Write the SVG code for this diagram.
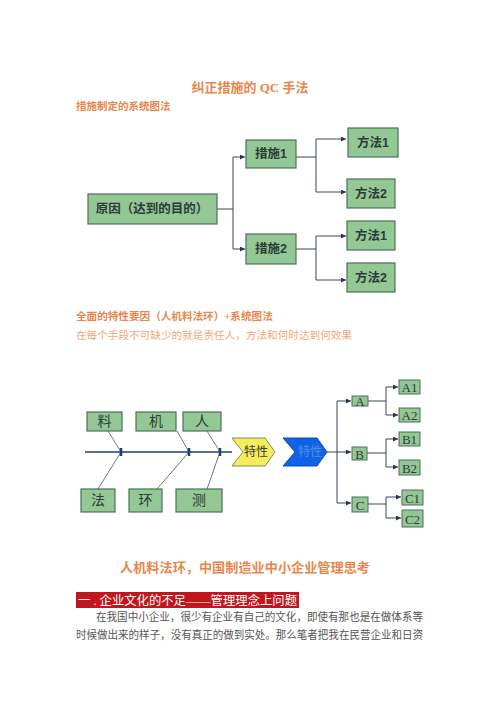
<svg xmlns="http://www.w3.org/2000/svg" width="500" height="708" viewBox="0 0 500 708">
<defs>
<style>
.t{font-family:"Liberation Serif","Noto Sans CJK SC",serif}
.s{font-family:"Liberation Sans","Noto Sans CJK SC",sans-serif}
.or{fill:#e8874d;font-weight:bold}
.box{fill:#93c793;stroke:#4d6e5c;stroke-width:1.2}
.sbox{fill:#93c793;stroke:#4d6e5c;stroke-width:1}
.bt{font-family:"Liberation Sans","Noto Sans CJK SC",sans-serif;font-size:12.5px;font-weight:bold;fill:#2b3b3b;text-anchor:middle;dominant-baseline:central}
.ft{font-family:"Liberation Serif","Noto Sans CJK SC",serif;font-size:14px;fill:#2b3b3b;text-anchor:middle;dominant-baseline:central}
.lt{font-family:"Liberation Serif","Noto Sans CJK SC",serif;font-size:13px;fill:#2b3b3b;text-anchor:middle;dominant-baseline:central}
.ln{fill:none;stroke:#3a4658;stroke-width:1}
.bone{fill:none;stroke:#777;stroke-width:1}
</style>
<marker id="ah" viewBox="0 0 6 6" refX="6" refY="3" markerWidth="5" markerHeight="5" orient="auto"><path d="M0,0L6,3L0,6z" fill="#2a3550"/></marker>
</defs>
<rect width="500" height="708" fill="#fff"/>

<text class="t or" x="250" y="92" font-size="13" text-anchor="middle">纠正措施的 QC 手法</text>
<text class="t or" x="76" y="110" font-size="10.5">措施制定的系统图法</text>

<g id="connectors1">
<path class="ln" d="M217,209H233M233,157V249"/>
<path class="ln" d="M233,157H245" marker-end="url(#ah)"/>
<path class="ln" d="M233,249H245" marker-end="url(#ah)"/>
<path class="ln" d="M296,157H316M316,139V192"/>
<path class="ln" d="M316,139H346" marker-end="url(#ah)"/>
<path class="ln" d="M316,192H346" marker-end="url(#ah)"/>
<path class="ln" d="M296,249H316M316,236V280"/>
<path class="ln" d="M316,236H346" marker-end="url(#ah)"/>
<path class="ln" d="M316,280H346" marker-end="url(#ah)"/>
</g>
<g id="n_cause"><rect class="box" x="88" y="194" width="129" height="30"/><text class="bt" x="152" y="209" font-size="13">原因（达到的目的）</text></g>
<g id="n_m1"><rect class="box" x="246" y="140" width="50" height="28"/><text class="bt" x="271" y="154">措施1</text></g>
<g id="n_m2"><rect class="box" x="246" y="234" width="50" height="30"/><text class="bt" x="271" y="249">措施2</text></g>
<g id="n_f11"><rect class="box" x="348" y="128" width="50" height="29"/><text class="bt" x="373" y="143">方法1</text></g>
<g id="n_f12"><rect class="box" x="347" y="179" width="48" height="29"/><text class="bt" x="371" y="194">方法2</text></g>
<g id="n_f21"><rect class="box" x="347" y="221" width="48" height="29"/><text class="bt" x="371" y="236">方法1</text></g>
<g id="n_f22"><rect class="box" x="347" y="263" width="48" height="29"/><text class="bt" x="371" y="278">方法2</text></g>

<text class="t or" x="76" y="320" font-size="10.6">全面的特性要因（人机料法环）+系统图法</text>
<text class="t" x="76" y="339" font-size="10.6" fill="#f0a878" textLength="276" lengthAdjust="spacingAndGlyphs">在每个手段不可缺少的就是责任人，方法和何时达到何效果</text>

<g id="connectors2">
<path d="M85,452H232" fill="none" stroke="#1f3f6f" stroke-width="1.5"/>
<path class="bone" d="M108,431L121,452L98,489"/>
<path class="bone" d="M177,431L189,452L157,489"/>
<path class="bone" d="M207,431L220,452L207,489"/>
<g stroke="#1f3f6f" stroke-width="2.5"><path d="M121,448V456M189,448V456M220,448V456"/></g>
<path class="ln" d="M327,452H337M337,401V503"/>
<path class="ln" d="M337,401H351" marker-end="url(#ah)"/>
<path class="ln" d="M337,452H351" marker-end="url(#ah)"/>
<path class="ln" d="M337,503H351" marker-end="url(#ah)"/>
<path class="ln" d="M368,401H386M386,387V415"/>
<path class="ln" d="M386,387H398" marker-end="url(#ah)"/>
<path class="ln" d="M386,415H398" marker-end="url(#ah)"/>
<path class="ln" d="M367,453H386M386,439V467"/>
<path class="ln" d="M386,439H398" marker-end="url(#ah)"/>
<path class="ln" d="M386,467H398" marker-end="url(#ah)"/>
<path class="ln" d="M368,504H386M386,497V518"/>
<path class="ln" d="M386,497H401" marker-end="url(#ah)"/>
<path class="ln" d="M386,518H401" marker-end="url(#ah)"/>
</g>
<g id="n_liao"><rect class="box" x="87" y="412" width="35" height="19"/><text class="ft" x="104.5" y="421.5">料</text></g>
<g id="n_ji"><rect class="box" x="136" y="412" width="40" height="19"/><text class="ft" x="156" y="421.5">机</text></g>
<g id="n_ren"><rect class="box" x="183" y="412" width="38" height="19"/><text class="ft" x="202" y="421.5">人</text></g>
<g id="n_fa"><rect class="box" x="81" y="489" width="34" height="23"/><text class="ft" x="98" y="500.5">法</text></g>
<g id="n_huan"><rect class="box" x="129" y="489" width="33" height="23"/><text class="ft" x="145.5" y="500.5">环</text></g>
<g id="n_ce"><rect class="box" x="176" y="489" width="46" height="23"/><text class="ft" x="199" y="500.5">测</text></g>
<g id="n_tx1"><polygon points="232,438 265,438 275,452 265,466 232,466 243,452" fill="#f6ed5e" stroke="#8a8a5a" stroke-width="1"/><text class="t" x="256" y="452" font-size="12" fill="#3a3a2a" text-anchor="middle" dominant-baseline="central">特性</text></g>
<g id="n_tx2"><polygon points="283,438 317,438 327,452 317,466 283,466 295,452" fill="#1262e6" stroke="#0b4cc0" stroke-width="1"/><text class="t" x="310" y="452" font-size="12" fill="#4f8ee8" text-anchor="middle" dominant-baseline="central">特性</text></g>
<g id="n_A"><rect class="sbox" x="352" y="396" width="16" height="10"/><text class="lt" x="360" y="401.5">A</text></g>
<g id="n_B"><rect class="sbox" x="352" y="447" width="15" height="13"/><text class="lt" x="359.5" y="454">B</text></g>
<g id="n_C"><rect class="sbox" x="352" y="497" width="16" height="15"/><text class="lt" x="360" y="505">C</text></g>
<g id="n_A1"><rect class="sbox" x="399" y="380" width="21" height="14"/><text class="lt" x="409.5" y="387.5">A1</text></g>
<g id="n_A2"><rect class="sbox" x="399" y="408" width="21" height="14"/><text class="lt" x="409.5" y="415.5">A2</text></g>
<g id="n_B1"><rect class="sbox" x="399" y="432" width="21" height="14"/><text class="lt" x="409.5" y="439.5">B1</text></g>
<g id="n_B2"><rect class="sbox" x="399" y="460" width="21" height="15"/><text class="lt" x="409.5" y="468">B2</text></g>
<g id="n_C1"><rect class="sbox" x="402" y="490" width="21" height="15"/><text class="lt" x="412.5" y="498">C1</text></g>
<g id="n_C2"><rect class="sbox" x="402" y="510" width="21" height="17"/><text class="lt" x="412.5" y="519">C2</text></g>

<text class="t or" x="245" y="572" font-size="13" text-anchor="middle" textLength="250" lengthAdjust="spacingAndGlyphs">人机料法环，中国制造业中小企业管理思考</text>
<rect x="76" y="592" width="223" height="16" fill="#c0161d"/>
<text class="t" x="78" y="605" font-size="12.5" fill="#fff" textLength="219" lengthAdjust="spacingAndGlyphs">一 . 企业文化的不足——管理理念上问题</text>
<text class="t" x="96" y="621" font-size="10.8" fill="#555" textLength="327" lengthAdjust="spacingAndGlyphs">在我国中小企业，很少有企业有自己的文化，即使有那也是在做体系等</text>
<text class="t" x="76" y="639" font-size="10.8" fill="#555" textLength="347" lengthAdjust="spacingAndGlyphs">时候做出来的样子，没有真正的做到实处。那么笔者把我在民营企业和日资</text>
</svg>
